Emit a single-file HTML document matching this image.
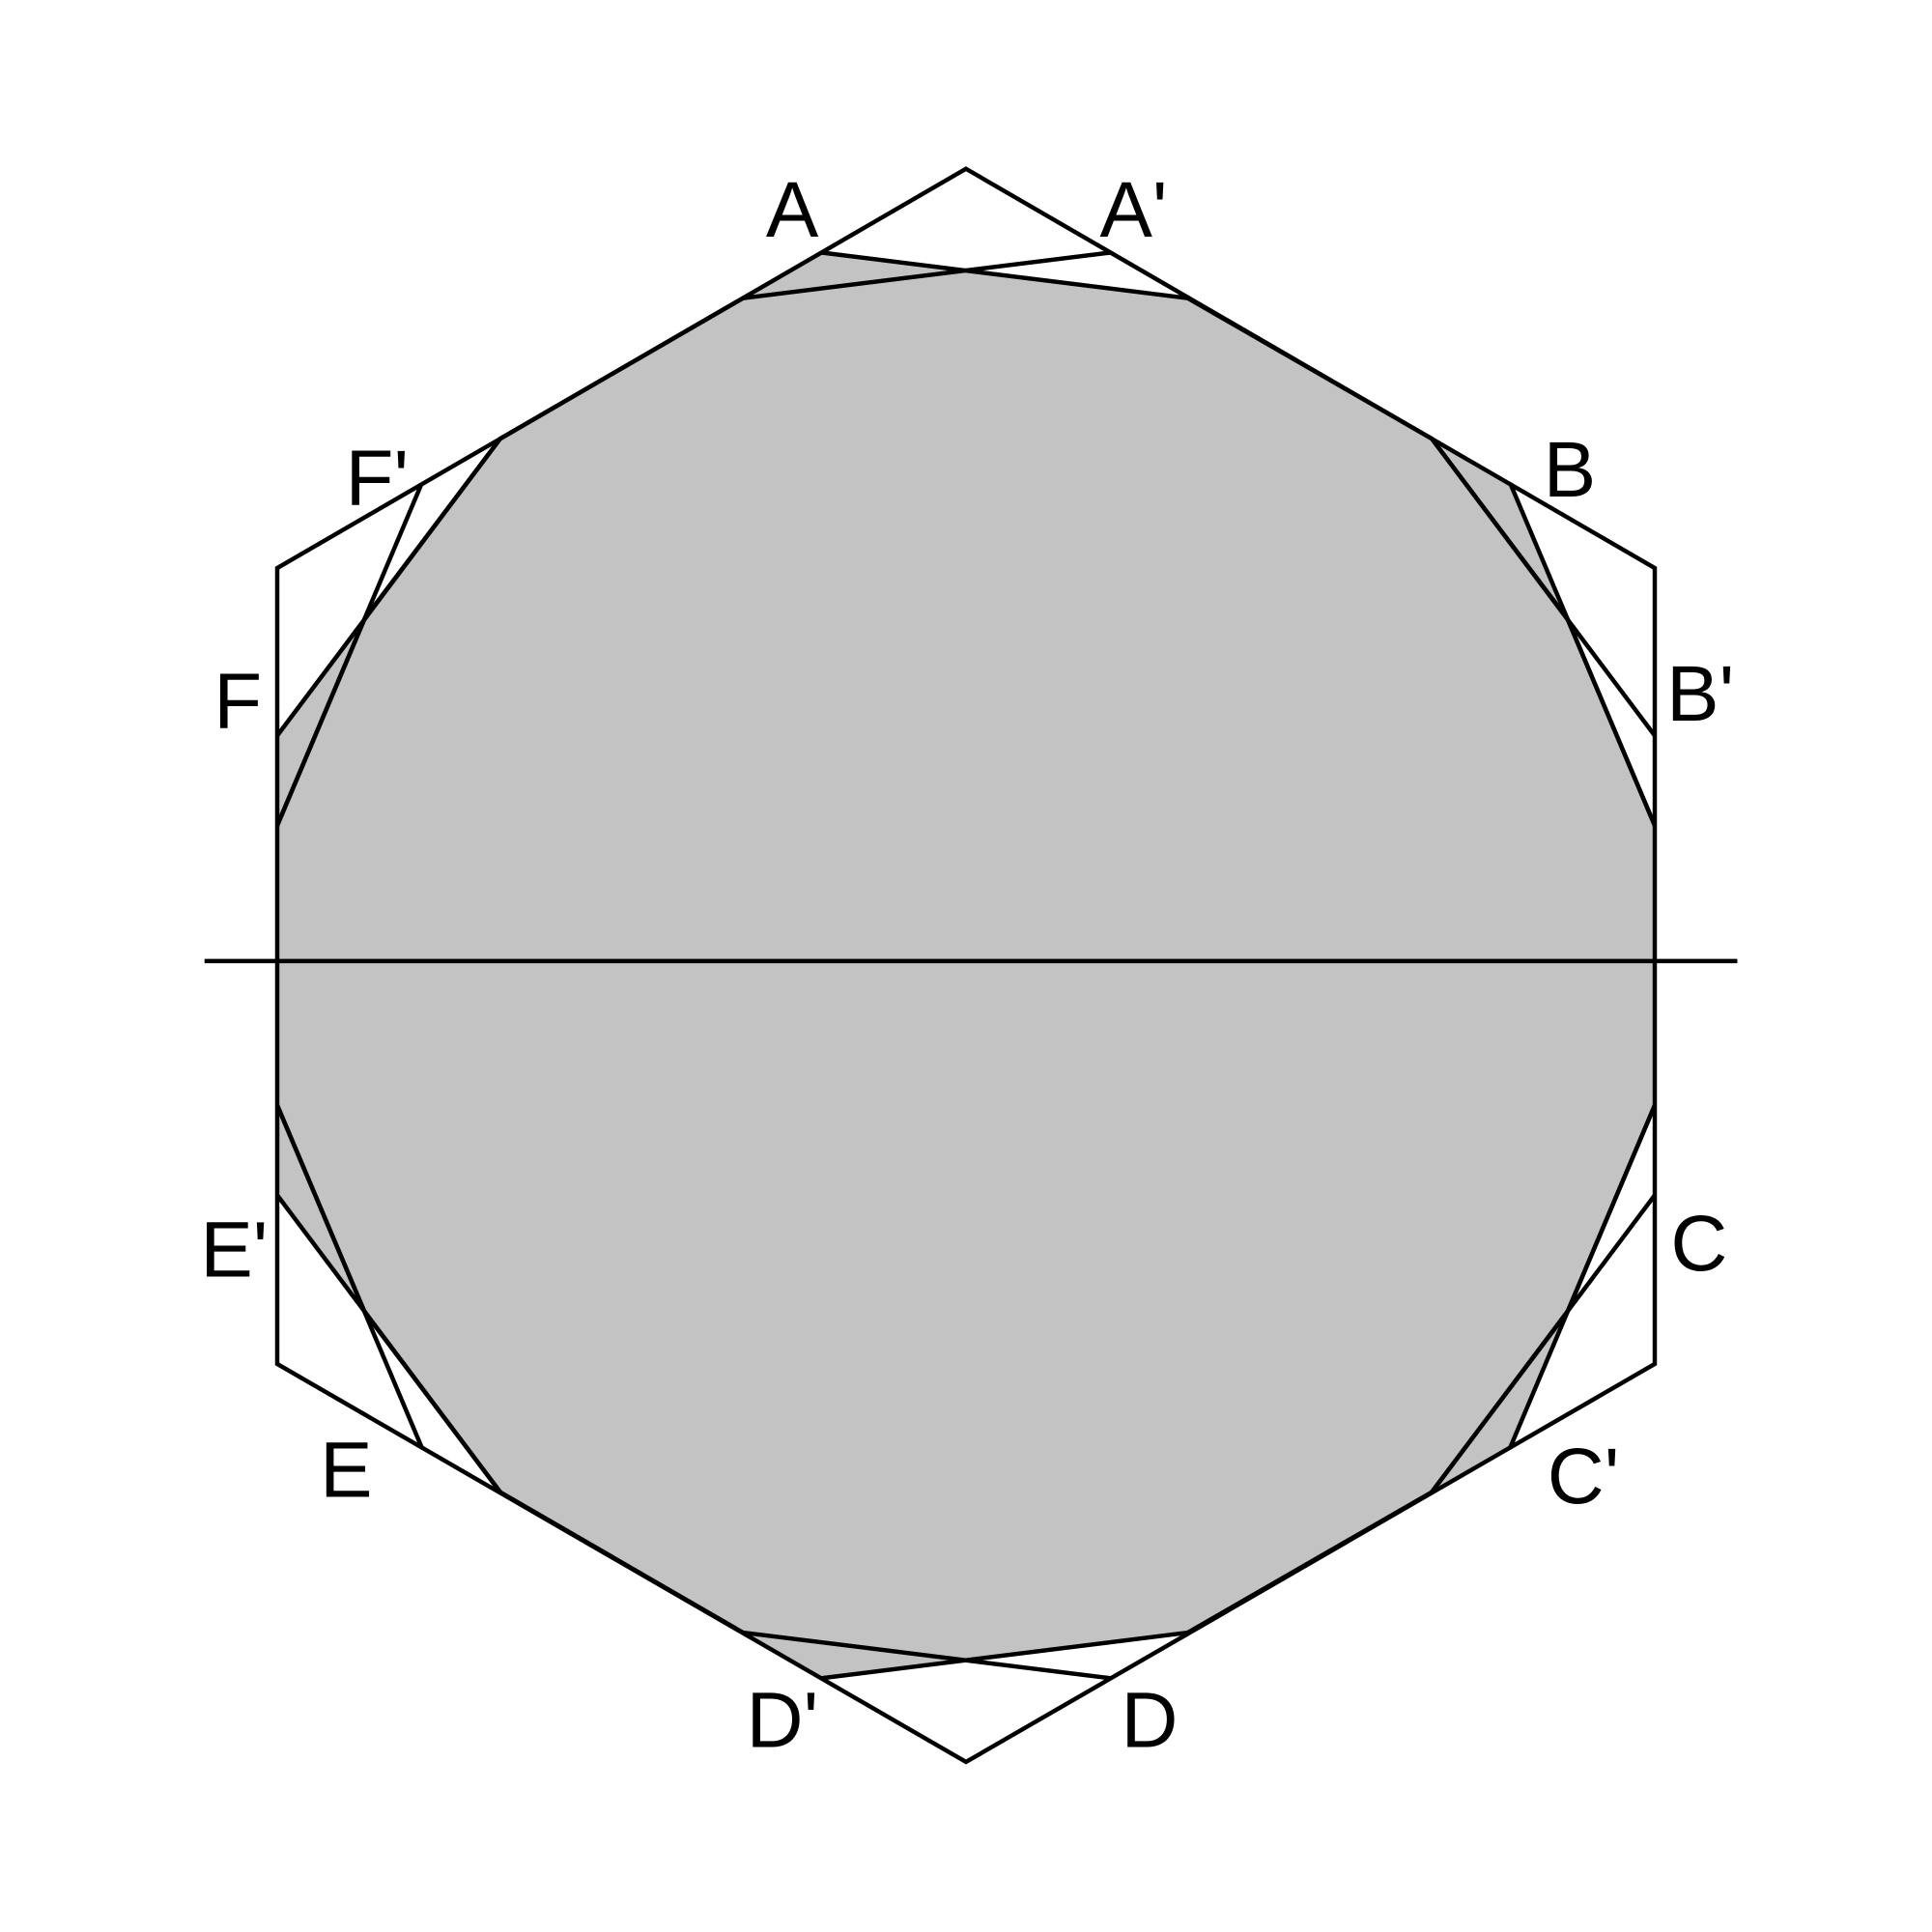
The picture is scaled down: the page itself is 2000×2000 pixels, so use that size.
<!DOCTYPE html>
<html><head><meta charset="utf-8"><style>
html,body{margin:0;padding:0;background:#fff}
svg{display:block}
text{font-family:"Liberation Sans","DejaVu Sans",sans-serif;font-size:64px;fill:#000;text-anchor:middle}
</style></head><body>
<svg width="2000" height="2000" viewBox="0 0 1568 1568" xmlns="http://www.w3.org/2000/svg">
<rect width="1568" height="1568" fill="#fff"/>
<polygon fill="#c3c3c3" stroke="none"
 points="603,242 667,205 784,220 964,242 1162,356 1226,393 1272,502 1343,670 1343,897 1272,1065 1226,1174 1162,1211 964,1325 784,1348 667,1362 603,1325 406,1211 296,1065 225,970 225,897 225,670 225,597 296,502 406,356"/>
<g stroke="#000" stroke-width="3.5" fill="none" stroke-linejoin="miter">
<polygon points="784,137 1343,461 1343,1107 784,1430 225,1107 225,461"/>
<line x1="166" y1="780" x2="1410" y2="780"/>
<g>
<line x1="667" y1="205" x2="964" y2="242"/>
<line x1="901" y1="205" x2="603" y2="242"/>
<line x1="1162" y1="356" x2="1343" y2="597"/>
<line x1="1226" y1="393" x2="1343" y2="670"/>
<line x1="1343" y1="897" x2="1226" y2="1174"/>
<line x1="1343" y1="970" x2="1162" y2="1211"/>
<line x1="964" y1="1325" x2="667" y2="1362"/>
<line x1="603" y1="1325" x2="901" y2="1362"/>
<line x1="406" y1="356" x2="225" y2="597"/>
<line x1="342" y1="393" x2="225" y2="670"/>
<line x1="225" y1="897" x2="342" y2="1174"/>
<line x1="225" y1="970" x2="406" y2="1211"/>
</g>
<polyline points="603,242 406,356 296,502 225,670"/>
<polyline points="964,242 1162,356 1272,502 1343,670"/>
<polyline points="603,1325 406,1211 296,1065 225,897"/>
<polyline points="964,1325 1162,1211 1272,1065 1343,897"/>
</g>
<text x="643" y="192">A</text>
<text x="920" y="192">A'</text>
<text x="1274" y="403">B</text>
<text x="1380" y="585">B'</text>
<text x="1379" y="1031">C</text>
<text x="1285" y="1220">C'</text>
<text x="933" y="1418">D</text>
<text x="635" y="1418">D'</text>
<text x="281" y="1215">E</text>
<text x="190" y="1036">E'</text>
<text x="193" y="591">F</text>
<text x="306" y="410">F'</text>
</svg>
</body></html>
